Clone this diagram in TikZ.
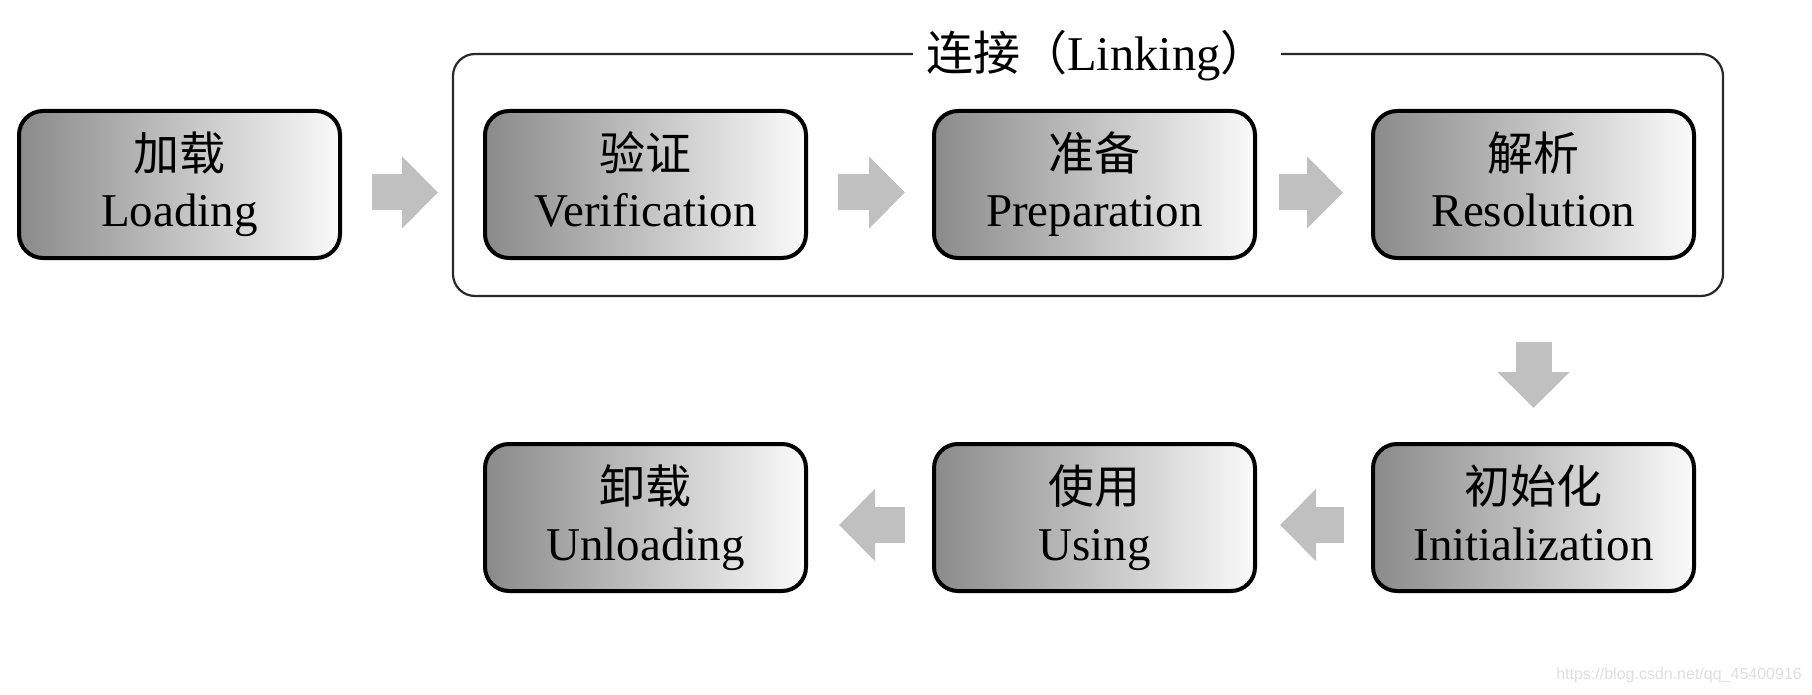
\documentclass[tikz,border=0pt]{standalone}
\usepackage{fontspec}
\setmainfont{Liberation Serif}
\newfontfamily\cjk{Noto Sans CJK SC}
\newfontfamily\wmfont{Liberation Sans}
\usetikzlibrary{arrows.meta}

\definecolor{shadedark}{RGB}{138,138,138}
\definecolor{shadelight}{RGB}{250,250,250}
\definecolor{arrowgray}{RGB}{192,192,192}
\definecolor{framegray}{RGB}{40,40,40}
\definecolor{wmgray}{RGB}{222,222,222}

% two-line stage caption: Chinese above, English below, centred on the node
\newcommand\stagetext[2]{%
  \makebox[0pt]{\raisebox{14pt}[0pt][0pt]{\cjk\fontsize{46}{46}\selectfont #1}}%
  \makebox[0pt]{\raisebox{-42.5pt}[0pt][0pt]{\fontsize{47}{47}\selectfont #2}}}

\tikzset{
  stage/.style={draw=black, line width=4pt, rounded corners=24pt,
    minimum width=321pt, minimum height=147pt, inner sep=0pt,
    text height=0pt, text depth=0pt,
    left color=shadedark, right color=shadelight},
  flow/.style={draw=arrowgray, line width=36pt,
    -{Triangle[length=36pt,width=70pt]}},
}

\begin{document}
\begin{tikzpicture}[x=1pt,y=-1pt]
\useasboundingbox (0,0) rectangle (1812,695);

% the linking phase frame with its caption
\node[draw=framegray, line width=2.2pt, rounded corners=22pt,
      minimum width=1270pt, minimum height=242pt] (linking) at (1088,175) {};
\node[fill=white, inner xsep=13pt, inner ysep=2pt] (linklabel) at (1097,56)
  {{\cjk\fontsize{47}{47}\selectfont 连接（}{\fontsize{48.5}{48.5}\selectfont Linking}{\cjk\fontsize{47}{47}\selectfont ）}};

% stages
\node[stage] (load)   at (179.5,184.5)  {\stagetext{加载}{Loading}};
\node[stage] (verif)  at (645.5,184.5)  {\stagetext{验证}{Verification}};
\node[stage] (prep)   at (1094.5,184.5) {\stagetext{准备}{Preparation}};
\node[stage] (res)    at (1533.5,184.5) {\stagetext{解析}{Resolution}};
\node[stage] (init)   at (1533.5,517.5) {\stagetext{初始化}{Initialization}};
\node[stage] (use)    at (1094.5,517.5) {\stagetext{使用}{Using}};
\node[stage] (unload) at (645.5,517.5)  {\stagetext{卸载}{Unloading}};

% block arrows between stages
\draw[flow, shorten <=30pt, shorten >=45pt] ([yshift=-8pt]load.east) -- ([yshift=-8pt]verif.west);
\draw[flow, shorten <=30pt, shorten >=27pt] ([yshift=-8pt]verif.east) -- ([yshift=-8pt]prep.west);
\draw[flow, shorten <=22pt, shorten >=28pt] ([yshift=-8pt]prep.east) -- ([yshift=-8pt]res.west);
\draw[flow, shorten <=82pt, shorten >=34pt] (res.south) -- (init.north);
\draw[flow, shorten <=27pt, shorten >=23pt] ([yshift=-7.5pt]init.west) -- ([yshift=-7.5pt]use.east);
\draw[flow, shorten <=27pt, shorten >=31pt] ([yshift=-7.5pt]use.west) -- ([yshift=-7.5pt]unload.east);

% source address
\node[anchor=east, inner sep=0pt, text=wmgray, font=\wmfont\fontsize{16}{16}\selectfont]
  (wm) at (1802,675) {https://blog.csdn.net/qq\_45400916};
\end{tikzpicture}
\end{document}
